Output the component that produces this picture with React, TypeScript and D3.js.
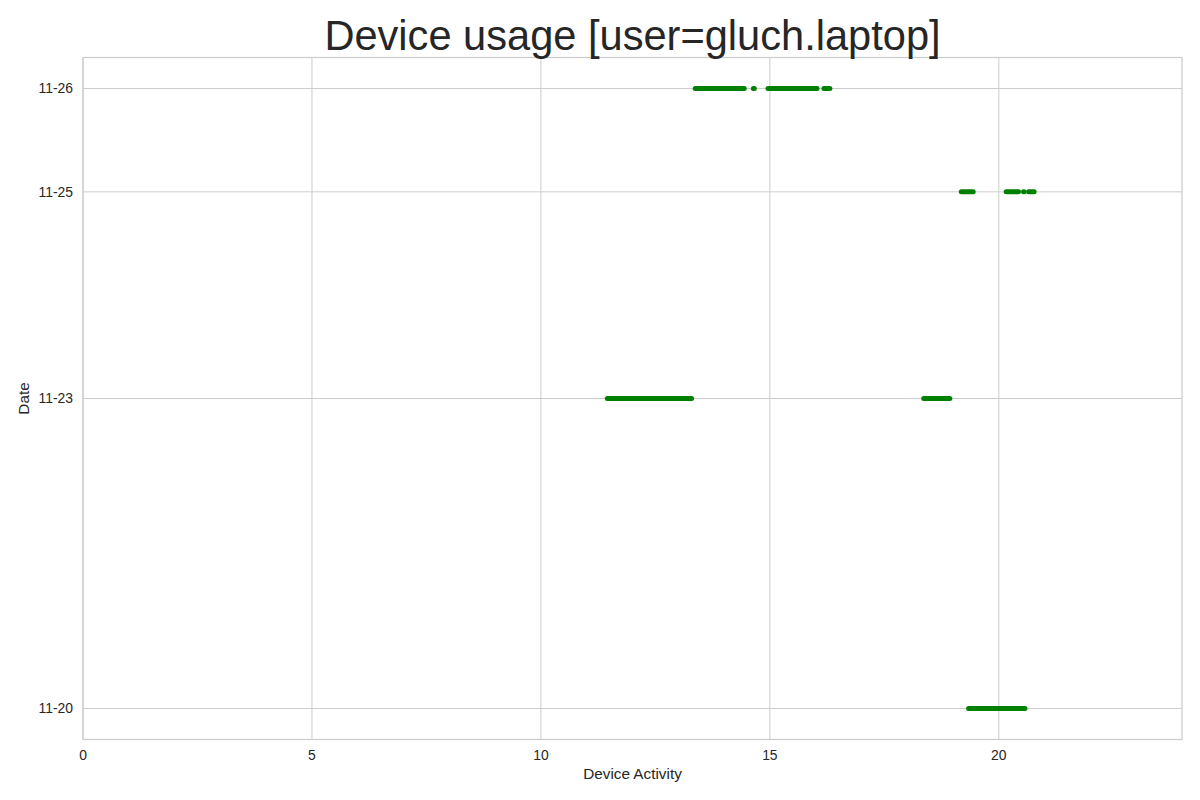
import React from 'react';
import * as d3 from 'd3';

// days with activity and the sessions (start hour, end hour) for each
const days = ['2023-11-20', '2023-11-23', '2023-11-25', '2023-11-26'];
const sessionDay = ['2023-11-20', '2023-11-23', '2023-11-23', '2023-11-25', '2023-11-25', '2023-11-25', '2023-11-25', '2023-11-26', '2023-11-26', '2023-11-26', '2023-11-26'];
const sessionStart = [19.34, 11.45, 18.36, 19.18, 20.16, 20.54, 20.65, 13.37, 14.64, 14.96, 16.18];
const sessionEnd = [20.57, 13.29, 18.93, 19.44, 20.43, 20.55, 20.77, 14.44, 14.66, 16.03, 16.31];
const xTicks = [0, 5, 10, 15, 20];

const W = 1200;
const H = 800;
const margin = { top: 57.5, right: 18, bottom: 60.5, left: 83 };
const font = '"Liberation Sans", Arial, sans-serif';
const textColor = '#262626';
const gridColor = '#cccccc';

const App = () => {
  const parse = d3.timeParse('%Y-%m-%d');
  const fmt = d3.timeFormat('%m-%d');
  const dayDates = days.map(d => parse(d) as Date);
  const minDay = d3.min(dayDates) as Date;
  const maxDay = d3.max(dayDates) as Date;
  const pad = (maxDay.getTime() - minDay.getTime()) * 0.05;

  const x = d3.scaleLinear().domain([0, 24]).range([margin.left, W - margin.right]);
  const y = d3.scaleTime()
    .domain([new Date(minDay.getTime() - pad), new Date(maxDay.getTime() + pad)])
    .range([H - margin.bottom, margin.top]);

  const sessions = sessionDay.map((d, i) => ({
    day: parse(d) as Date,
    start: sessionStart[i],
    end: sessionEnd[i],
  }));

  const line = d3.line<[number, Date]>().x(d => x(d[0])).y(d => y(d[1]));

  return (
    <svg width={W} height={H} style={{ display: 'block', position: 'absolute', left: 0, top: 0 }}>
      <rect x={0} y={0} width={W} height={H} fill="#fff" />
      {/* grid */}
      {xTicks.map(t => (
        <line key={'gx' + t} x1={x(t)} x2={x(t)} y1={margin.top} y2={H - margin.bottom} stroke={gridColor} strokeWidth={1} />
      ))}
      {dayDates.map(d => (
        <line key={'gy' + d.getTime()} x1={margin.left} x2={W - margin.right} y1={y(d)} y2={y(d)} stroke={gridColor} strokeWidth={1} />
      ))}
      {/* frame */}
      <rect x={margin.left} y={margin.top} width={W - margin.left - margin.right} height={H - margin.top - margin.bottom}
        fill="none" stroke={gridColor} strokeWidth={1.25} />
      {/* sessions */}
      {sessions.map((s, i) => (
        <path key={'s' + i} d={line([[s.start, s.day], [s.end, s.day]]) || ''} stroke="#008000" strokeWidth={5}
          strokeLinecap="round" fill="none" />
      ))}
      {/* x tick labels */}
      {xTicks.map(t => (
        <text key={'xt' + t} x={x(t)} y={H - margin.bottom + 20} textAnchor="middle" fontFamily={font} fontSize={13.9} fill={textColor}>
          {t}
        </text>
      ))}
      {/* y tick labels */}
      {dayDates.map(d => (
        <text key={'yt' + d.getTime()} x={margin.left - 10} y={y(d)} dy="0.35em" textAnchor="end" fontFamily={font} fontSize={13.9} fill={textColor}>
          {fmt(d)}
        </text>
      ))}
      {/* axis labels */}
      <text x={(margin.left + W - margin.right) / 2} y={H - 21} textAnchor="middle" fontFamily={font} fontSize={15.3} fill={textColor}>
        Device Activity
      </text>
      <text transform={`translate(29,${(margin.top + H - margin.bottom) / 2}) rotate(-90)`} textAnchor="middle" fontFamily={font} fontSize={15.3} fill={textColor}>
        Date
      </text>
      {/* title */}
      <text x={(margin.left + W - margin.right) / 2} y={50} textAnchor="middle" fontFamily={font} fontSize={41.6} fill={textColor}>
        Device usage [user=gluch.laptop]
      </text>
    </svg>
  );
};

export default App;
